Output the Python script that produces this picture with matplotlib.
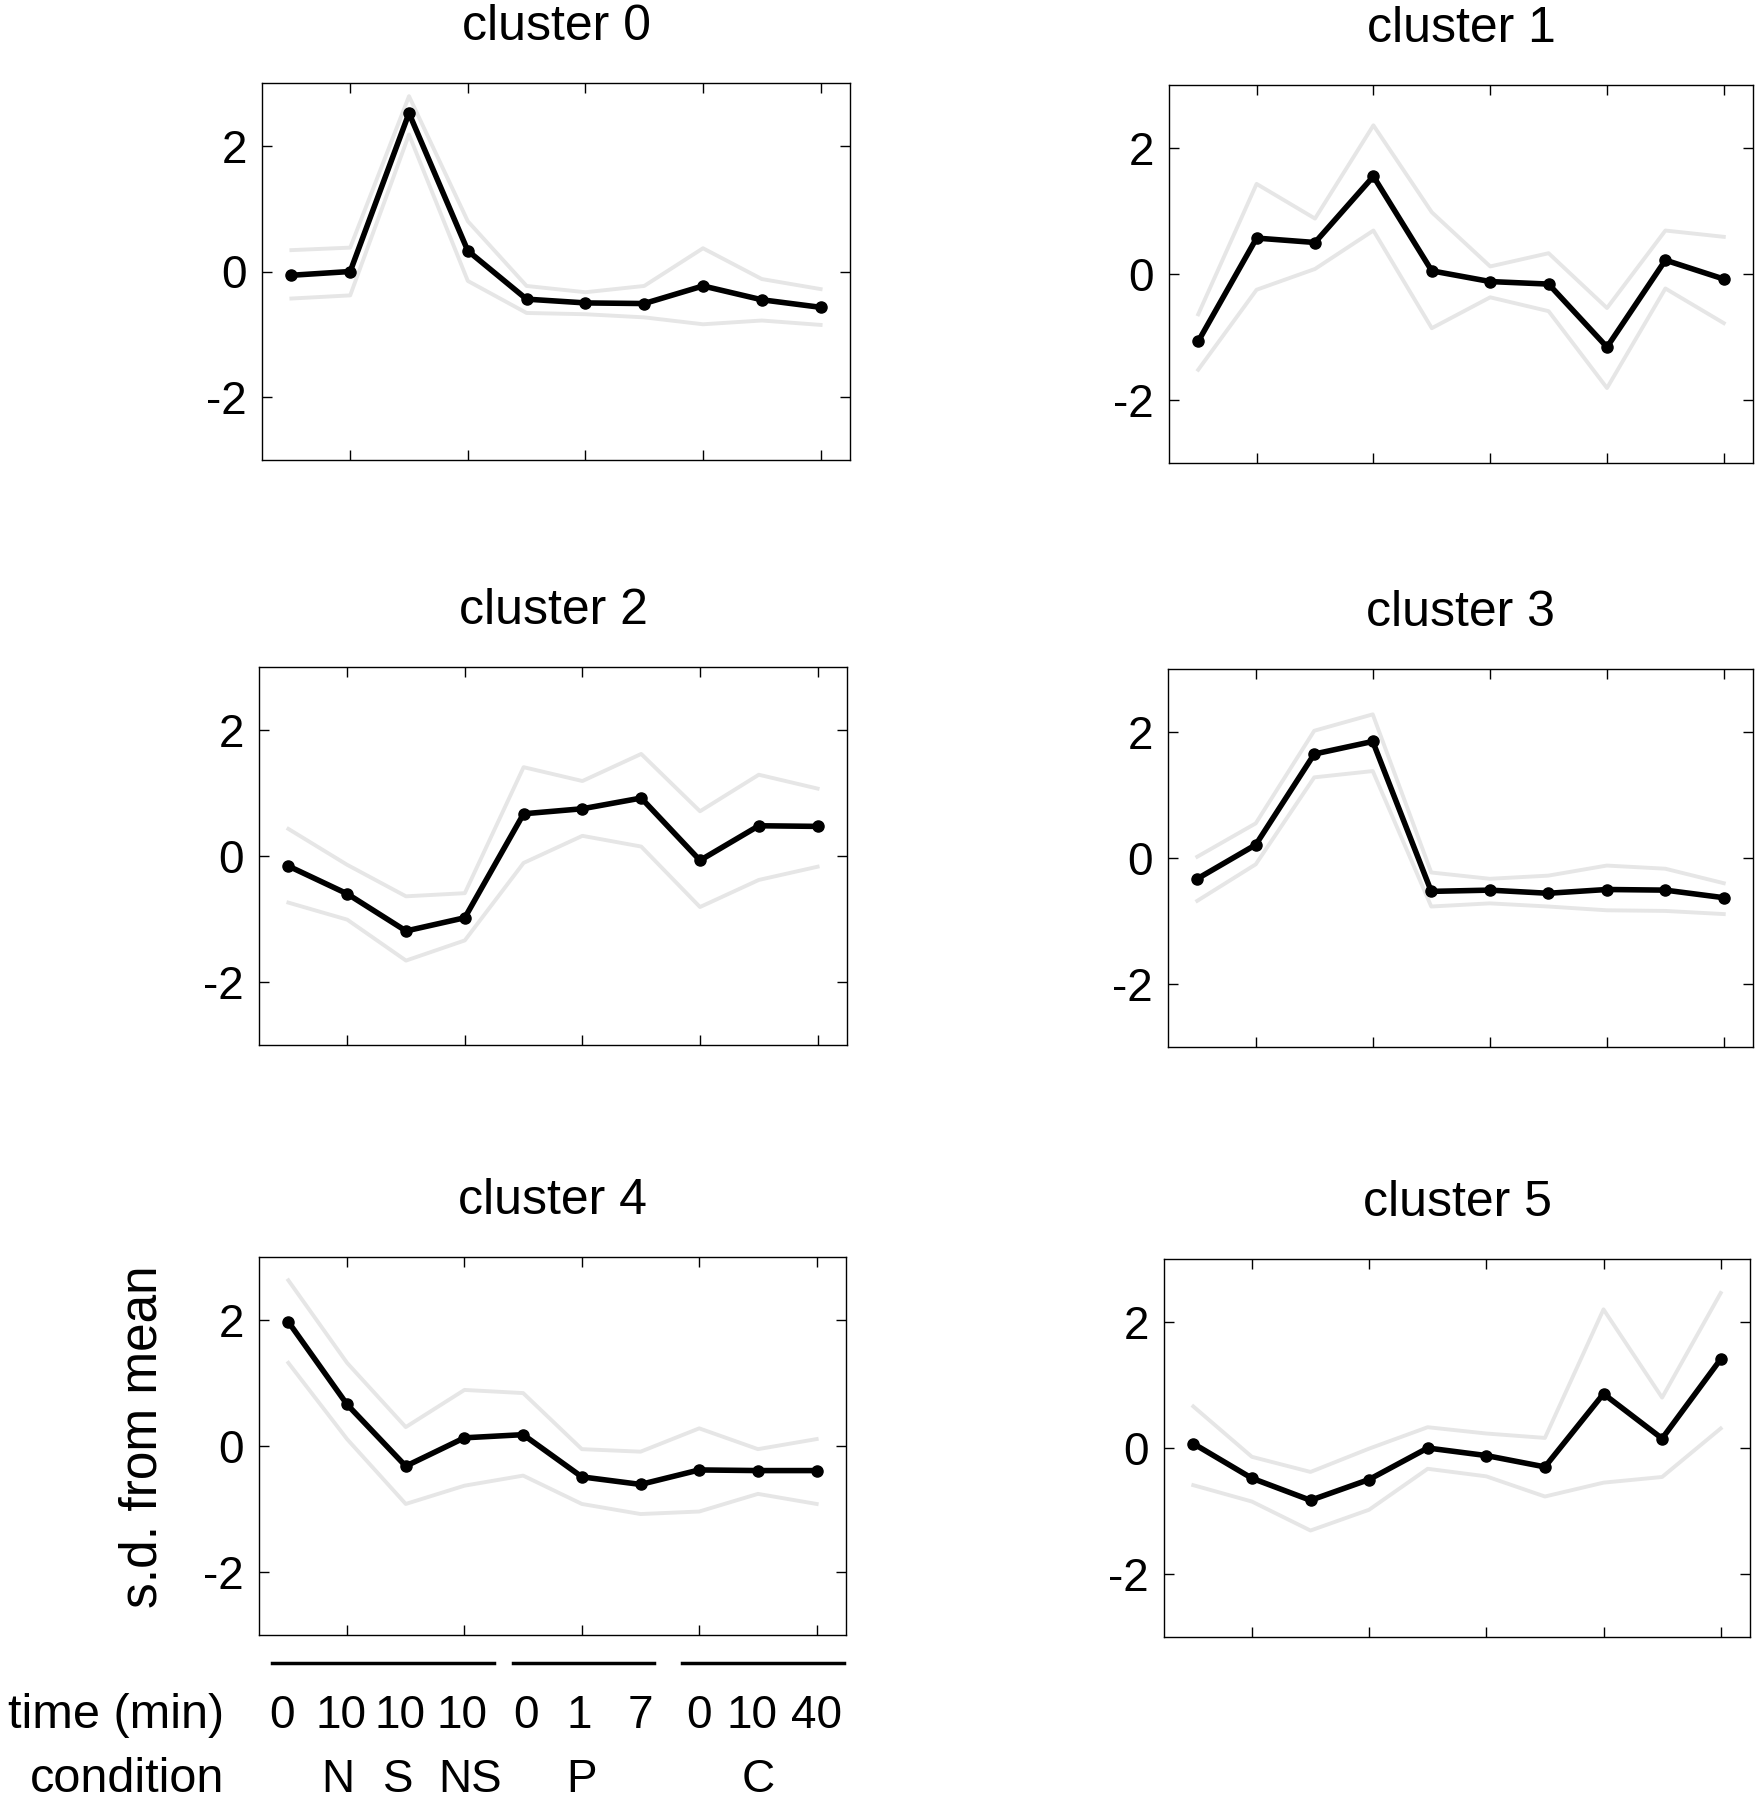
import numpy as np
import matplotlib.pyplot as plt
import matplotlib.transforms as mtransforms

plt.rcParams['font.family'] = ['Liberation Sans', 'DejaVu Sans']
plt.rcParams['axes.unicode_minus'] = False

# 10 conditie/tijdpunten per cluster
x = np.arange(1, 11)

# gemiddelde profiel per cluster (s.d. from mean)
mean0 = [-0.06, 0.00, 2.52, 0.33, -0.44, -0.50, -0.51, -0.23, -0.45, -0.57]
mean1 = [-1.07, 0.57, 0.50, 1.55, 0.05, -0.12, -0.16, -1.16, 0.22, -0.08]
mean2 = [-0.16, -0.60, -1.19, -0.98, 0.67, 0.75, 0.92, -0.07, 0.48, 0.47]
mean3 = [-0.33, 0.21, 1.65, 1.85, -0.53, -0.51, -0.56, -0.50, -0.51, -0.63]
mean4 = [1.97, 0.66, -0.32, 0.13, 0.18, -0.49, -0.61, -0.38, -0.39, -0.39]
mean5 = [0.07, -0.48, -0.83, -0.50, 0.00, -0.12, -0.30, 0.86, 0.15, 1.41]

# bovengrens (grijze lijn)
upper0 = [0.34, 0.38, 2.79, 0.80, -0.23, -0.33, -0.23, 0.37, -0.12, -0.28]
upper1 = [-0.64, 1.43, 0.88, 2.36, 0.98, 0.12, 0.33, -0.54, 0.69, 0.59]
upper2 = [0.43, -0.14, -0.64, -0.59, 1.41, 1.19, 1.62, 0.71, 1.29, 1.07]
upper3 = [0.02, 0.55, 2.02, 2.28, -0.23, -0.33, -0.28, -0.12, -0.17, -0.40]
upper4 = [2.63, 1.32, 0.30, 0.89, 0.84, -0.05, -0.09, 0.28, -0.05, 0.11]
upper5 = [0.66, -0.14, -0.38, -0.01, 0.33, 0.23, 0.16, 2.20, 0.80, 2.46]

# ondergrens (grijze lijn)
lower0 = [-0.43, -0.38, 2.18, -0.15, -0.66, -0.68, -0.73, -0.84, -0.78, -0.85]
lower1 = [-1.52, -0.25, 0.08, 0.69, -0.86, -0.37, -0.59, -1.81, -0.23, -0.78]
lower2 = [-0.74, -1.01, -1.66, -1.34, -0.11, 0.32, 0.15, -0.81, -0.38, -0.17]
lower3 = [-0.68, -0.10, 1.28, 1.38, -0.77, -0.72, -0.77, -0.83, -0.84, -0.89]
lower4 = [1.32, 0.11, -0.92, -0.63, -0.47, -0.92, -1.08, -1.04, -0.76, -0.92]
lower5 = [-0.59, -0.85, -1.31, -0.98, -0.33, -0.45, -0.77, -0.55, -0.46, 0.31]

means = [mean0, mean1, mean2, mean3, mean4, mean5]
uppers = [upper0, upper1, upper2, upper3, upper4, upper5]
lowers = [lower0, lower1, lower2, lower3, lower4, lower5]
titles = ["cluster 0", "cluster 1", "cluster 2", "cluster 3", "cluster 4", "cluster 5"]

time_labels = ["0", "10", "10", "10", "0", "1", "7", "0", "10", "40"]
time_pos = [0.9, 1.9, 2.9, 3.95, 5.05, 5.95, 7.0, 8.0, 8.9, 10.0]
cond_labels = ["N", "S", "NS", "P", "C"]
cond_pos = [1.85, 2.88, 4.1, 6.0, 9.0]
groups = [(0.72, 4.5), (4.83, 7.23), (7.7, 10.47)]

W, H = 1760, 1800
# (links, boven, rechts, onder) in pixels
boxes = [(262, 83, 850, 460), (1169, 85, 1753, 463),
         (259, 667, 847, 1045), (1168, 669, 1753, 1047),
         (259, 1257, 846, 1635), (1164, 1259, 1750, 1637)]

fig = plt.figure(figsize=(W / 100, H / 100), dpi=100)
fs = 33

axes = []
for k in range(6):
    l, t, r, b = boxes[k]
    ax = fig.add_axes([l / W, 1 - b / H, (r - l) / W, (b - t) / H])
    ax.plot(x, uppers[k], color='#e6e6e6', lw=2.8, zorder=1)
    ax.plot(x, lowers[k], color='#e6e6e6', lw=2.8, zorder=1)
    ax.plot(x, means[k], color='black', lw=4, marker='o', ms=8, zorder=3)
    ax.set_xlim(0.5, 10.5)
    ax.set_ylim(-3, 3)
    ax.set_yticks([-2, 0, 2])
    ax.set_xticks([2, 4, 6, 8, 10])
    ax.set_xticklabels([])
    ax.tick_params(direction='in', top=True, right=True, length=7, width=1,
                   labelsize=fs, pad=11)
    for s in ax.spines.values():
        s.set_linewidth(1.0)
    ax.set_title(titles[k], fontsize=36, pad=31)
    axes.append(ax)

# as-label en annotatie onder cluster 4
ax = axes[4]
fig.text(143 / W, 1 - 1437 / H, "s.d. from mean", rotation=90, fontsize=37,
         ha='center', va='center')

trans = mtransforms.blended_transform_factory(ax.transData, fig.transFigure)
for a, b in groups:
    ax.plot([a, b], [1 - 1663 / H, 1 - 1663 / H], color='black', lw=2.5,
            transform=trans, clip_on=False)

for p, lab in zip(time_pos, time_labels):
    ax.text(p, 1 - 1728 / H, lab, transform=trans, ha='center',
            va='baseline', fontsize=fs)
for p, lab in zip(cond_pos, cond_labels):
    ax.text(p, 1 - 1792 / H, lab, transform=trans, ha='center',
            va='baseline', fontsize=fs)

fig.text(224 / W, 1 - 1728 / H, "time (min)", ha='right', va='baseline', fontsize=35)
fig.text(224 / W, 1 - 1792 / H, "condition", ha='right', va='baseline', fontsize=35)

plt.savefig("out.png", dpi=100)
